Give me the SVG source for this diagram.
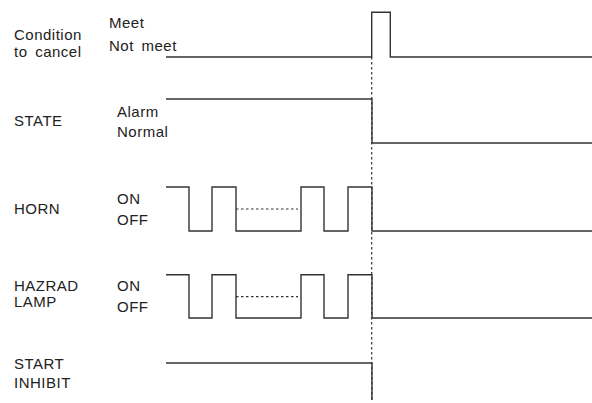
<svg xmlns="http://www.w3.org/2000/svg" width="592" height="403" viewBox="0 0 592 403">
<style>
text{font-family:"Liberation Sans",Arial,sans-serif;font-size:15px;letter-spacing:0.5px;fill:#222}
.ws{word-spacing:3px}
.w{fill:none;stroke:#333;stroke-width:1.4}
.d{fill:none;stroke:#333;stroke-width:1.2;stroke-dasharray:2.5,2.5}
</style>
<rect width="592" height="403" fill="#fff"/>
<g id="cond">
<text x="14" y="40">Condition</text>
<text class="ws" x="14" y="57">to cancel</text>
<text x="109" y="28">Meet</text>
<text class="ws" x="109" y="51">Not meet</text>
</g>
<g id="state">
<text x="14" y="126">STATE</text>
<text x="117" y="117">Alarm</text>
<text x="117" y="137">Normal</text>
</g>
<g id="horn">
<text x="14" y="214">HORN</text>
<text x="117" y="204">ON</text>
<text x="117" y="225">OFF</text>
</g>
<g id="lamp">
<text x="14" y="291">HAZRAD</text>
<text x="14" y="307">LAMP</text>
<text x="117" y="291">ON</text>
<text x="117" y="312">OFF</text>
</g>
<g id="inhibit">
<text x="14" y="369">START</text>
<text x="14" y="388">INHIBIT</text>
</g>
<g id="connectors">
<line class="d" x1="371.7" y1="57" x2="371.7" y2="400"/>
<polyline class="w" points="166,57 371.7,57 371.7,12.3 390.3,12.3 390.3,57 592,57"/>
<polyline class="w" points="166,99 372,99 372,143 592,143"/>
<polyline class="w" points="166,187 189,187 189,231 212,231 212,187 236,187 236,231 301,231 301,187 324,187 324,231 348,231 348,187 372,187 372,231 592,231"/>
<line class="d" x1="236" y1="209" x2="298" y2="209"/>
<polyline class="w" points="166,274.7 189,274.7 189,318 212,318 212,274.7 236,274.7 236,318 301,318 301,274.7 324,274.7 324,318 348,318 348,274.7 372,274.7 372,318 592,318"/>
<line class="d" x1="236" y1="296.7" x2="298" y2="296.7"/>
<polyline class="w" points="166,363 372,363 372,400"/>
</g>
</svg>
